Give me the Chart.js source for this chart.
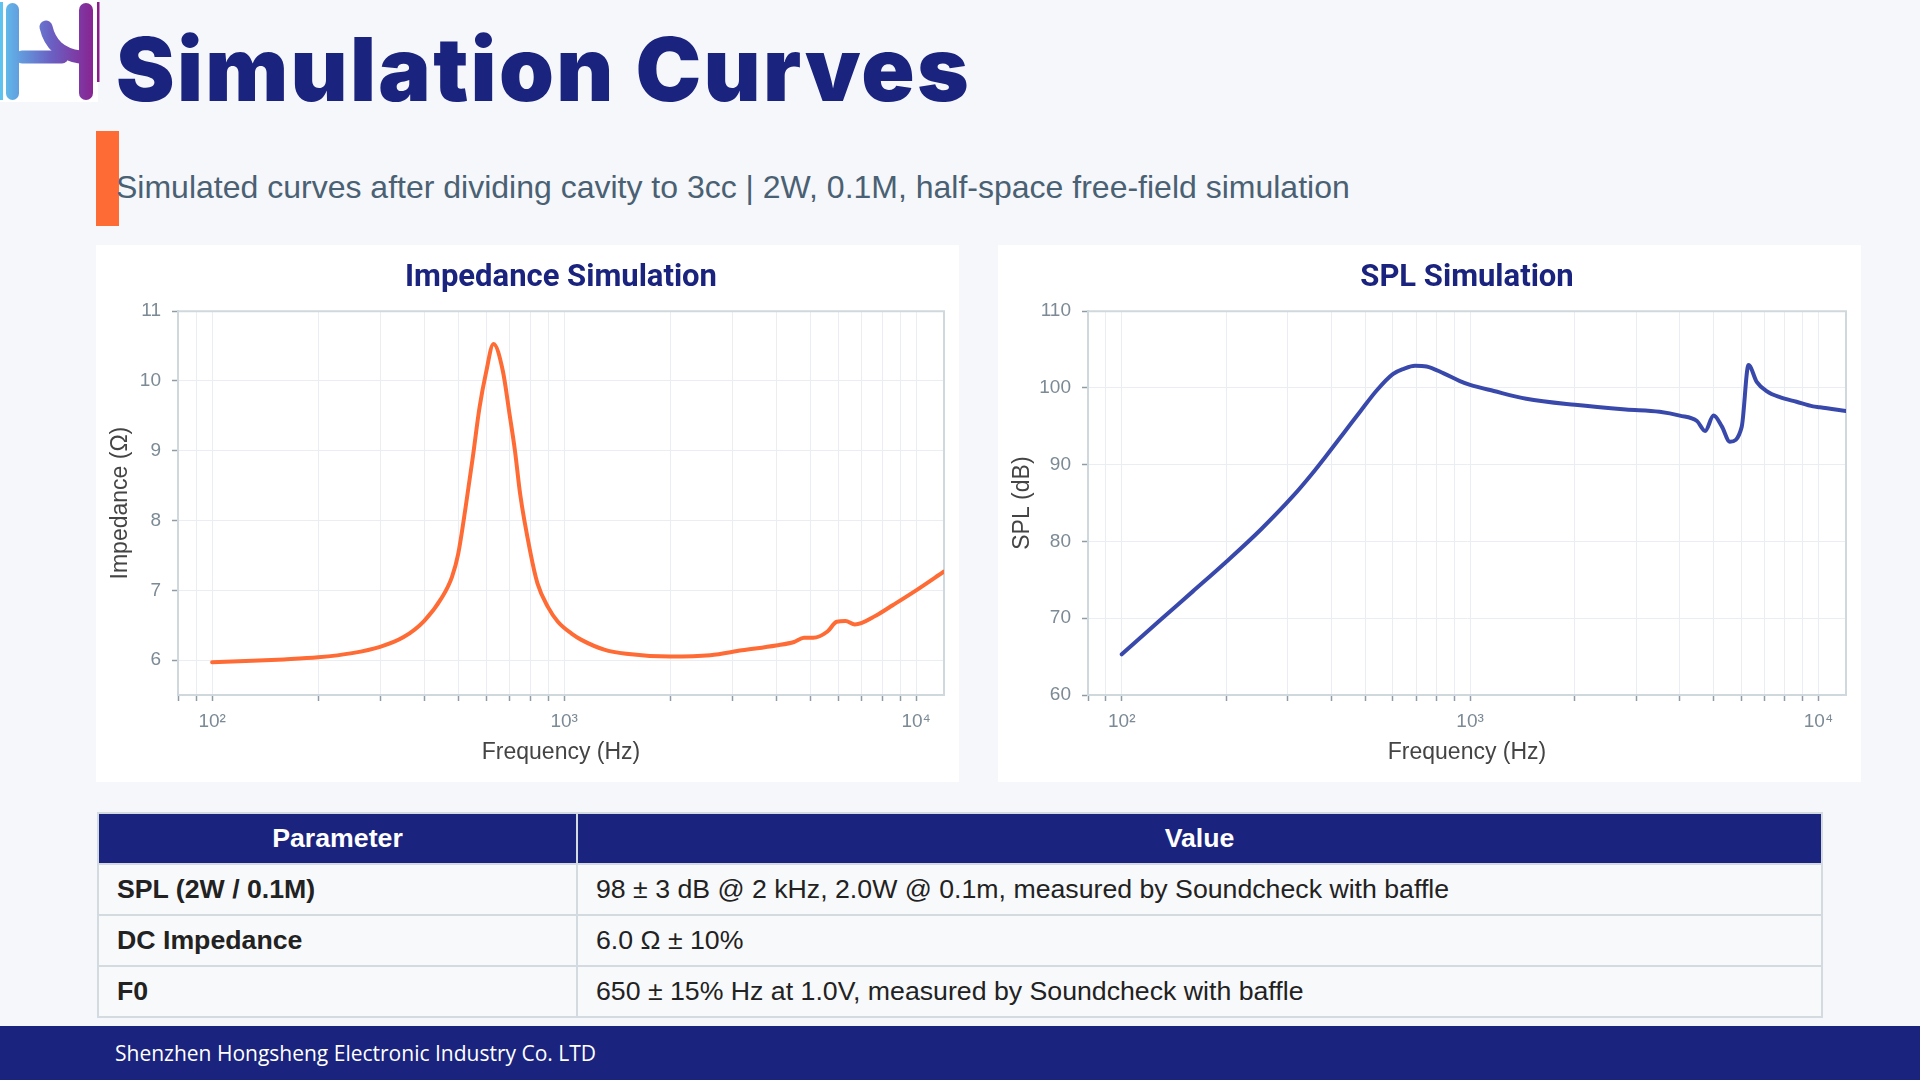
<!DOCTYPE html>
<html>
<head>
<meta charset="utf-8">
<title>Simulation Curves</title>
<script src="https://cdn.jsdelivr.net/npm/chart.js@4.4.1/dist/chart.umd.min.js"></script>
<style>
  html, body { margin: 0; padding: 0; }
  body {
    width: 1920px; height: 1080px; position: relative; overflow: hidden;
    background: #f5f7fa; font-family: 'Liberation Sans', Arial, sans-serif;
  }
  .logo { position: absolute; left: 0; top: 0; }
  .title {
    position: absolute; left: 116px; top: 25px; white-space: nowrap;
    font-family: Inter, sans-serif; font-weight: 900; font-size: 88px; line-height: 88px;
    letter-spacing: 2.3px; color: #1a237e;
  }
  .accent { position: absolute; left: 96px; top: 131px; width: 23px; height: 95px; background: #ff6b35; }
  .subtitle {
    position: absolute; left: 116px; top: 171px; white-space: nowrap;
    font-size: 32px; line-height: 32px; color: #4a6073;
  }
  .card { position: absolute; top: 245px; width: 863px; height: 537px; background: #fff; }
  #impCard { left: 96px; }
  #splCard { left: 998px; }
  table.spec {
    position: absolute; left: 97px; top: 812px; width: 1726px;
    border-collapse: collapse; font-size: 26.7px; color: #222;
  }
  table.spec th, table.spec td { border: 2px solid #d3dbe1; height: 49px; padding: 0 18px; }
  table.spec th { background: #1a237e; color: #fff; font-weight: bold; text-align: center; }
  table.spec td { background: #f8f9fb; }
  table.spec td.key { font-weight: bold; width: 441px; }
  .footer {
    position: absolute; left: 0; top: 1026px; width: 1920px; height: 54px;
    background: #1a237e; color: #fff; box-sizing: border-box; padding-left: 115px;
    display: flex; align-items: center;
    font-family: 'Open Sans', sans-serif; font-size: 21px;
  }
</style>
</head>
<body>

<svg class="logo" width="100" height="102" viewBox="0 0 100 102">
  <defs>
    <linearGradient id="lg" x1="0" y1="0" x2="100" y2="0" gradientUnits="userSpaceOnUse">
      <stop offset="0" stop-color="#5ec3ef"/>
      <stop offset="0.5" stop-color="#6a62c4"/>
      <stop offset="1" stop-color="#8d1a8a"/>
    </linearGradient>
  </defs>
  <rect x="0" y="0" width="98" height="102" fill="#fff"/>
  <rect x="0" y="2" width="3" height="98" fill="#5ec3ef"/>
  <rect x="6" y="3" width="13" height="97" rx="6.5" fill="url(#lg)"/>
  <path d="M22 57 H62" stroke="url(#lg)" stroke-width="13" stroke-linecap="round" fill="none"/>
  <path d="M46 27 C50 44 60 54 80 57" stroke="url(#lg)" stroke-width="13" stroke-linecap="round" fill="none"/>
  <rect x="79" y="3" width="14" height="97" rx="7" fill="url(#lg)"/>
  <rect x="97" y="2" width="2.5" height="80" fill="#8d1a8a"/>
</svg>

<div class="title">Simulation Curves</div>
<div class="accent"></div>
<div class="subtitle">Simulated curves after dividing cavity to 3cc | 2W, 0.1M, half-space free-field simulation</div>

<div class="card" id="impCard"><canvas id="impChart"></canvas></div>
<div class="card" id="splCard"><canvas id="splChart"></canvas></div>

<table class="spec">
  <tr><th>Parameter</th><th>Value</th></tr>
  <tr><td class="key">SPL (2W / 0.1M)</td><td>98 ± 3 dB @ 2 kHz, 2.0W @ 0.1m, measured by Soundcheck with baffle</td></tr>
  <tr><td class="key">DC Impedance</td><td>6.0 Ω ± 10%</td></tr>
  <tr><td class="key">F0</td><td>650 ± 15% Hz at 1.0V, measured by Soundcheck with baffle</td></tr>
</table>

<div class="footer">Shenzhen Hongsheng Electronic Industry Co. LTD</div>

<script>
// impedance curve (Hz, ohm)
const impFreq = [100, 130, 160, 200, 250, 300, 350, 400, 450, 480, 500, 525, 550, 575, 600, 630,
  670, 700, 725, 750, 800, 840, 900, 960, 1050, 1120, 1300, 1500, 2000, 2600, 3200, 4000,
  4500, 4800, 5100, 5600, 5950, 6300, 6700, 7700, 8600, 10000, 12000];
const impValues = [5.97, 5.99, 6.01, 6.04, 6.10, 6.19, 6.33, 6.56, 6.90, 7.19, 7.52, 8.19, 8.90, 9.62, 10.12, 10.53,
  10.14, 9.52, 9.00, 8.38, 7.57, 7.10, 6.76, 6.55, 6.38, 6.29, 6.15, 6.09, 6.05, 6.07, 6.14, 6.21,
  6.26, 6.32, 6.32, 6.41, 6.55, 6.56, 6.51, 6.64, 6.79, 7.00, 7.27];

// SPL curve (Hz, dB)
const splFreq = [100, 130, 160, 200, 250, 310, 350, 390, 435, 485, 540, 600, 645, 695, 750, 840,
  935, 1000, 1170, 1450, 2000, 2800, 3500, 4000, 4480, 4730, 5000, 5280, 5570, 6020, 6300,
  6650, 7100, 7750, 8650, 9650, 10100, 12000];
const splValues = [65.3, 69.9, 73.5, 77.4, 81.5, 85.9, 88.7, 91.4, 94.2, 97.0, 99.7, 101.8, 102.5, 102.9, 102.8, 101.9,
  100.9, 100.4, 99.6, 98.6, 97.8, 97.2, 96.9, 96.4, 95.7, 94.4, 96.4, 95.0, 93.0, 94.9, 103.0,
  100.8, 99.6, 98.8, 98.2, 97.6, 97.5, 97.0];

const freqTicks = [80, 90, 100, 200, 300, 400, 500, 600, 700, 800, 900,
  1000, 2000, 3000, 4000, 5000, 6000, 7000, 8000, 9000, 10000];
const decadeLabels = { 100: '10²', 1000: '10³', 10000: '10⁴' };
const impTicks = [6, 7, 8, 9, 10, 11];
const splTicks = [60, 70, 80, 90, 100, 110];

const axisLine = '#cfd8dc';
const gridColor = '#eaeef2';
const tickMark = '#8f9ca6';
const tickText = '#7b8a95';
const axisTitle = '#444';
const textFont = "'Liberation Sans', Arial, sans-serif";

// top and right border of the plot box
const plotFrame = {
  id: 'plotFrame',
  beforeDatasetsDraw(chart) {
    const { ctx, chartArea: a } = chart;
    ctx.save();
    ctx.strokeStyle = axisLine;
    ctx.lineWidth = 2;
    ctx.beginPath();
    ctx.moveTo(a.left, a.top);
    ctx.lineTo(a.right, a.top);
    ctx.lineTo(a.right, a.bottom);
    ctx.stroke();
    ctx.restore();
  }
};

function makeChart(canvasId, opts) {
  const points = opts.freq.map((f, i) => ({ x: f, y: opts.values[i] }));
  return new Chart(document.getElementById(canvasId), {
    type: 'line',
    data: {
      datasets: [{
        data: points,
        borderColor: opts.color,
        borderWidth: 4,
        pointRadius: 0,
        cubicInterpolationMode: 'monotone',
        borderJoinStyle: 'round',
        borderCapStyle: 'round',
        fill: false
      }]
    },
    plugins: [plotFrame],
    options: {
      responsive: true,
      maintainAspectRatio: false,
      animation: false,
      events: [],
      layout: { padding: { left: 8, right: 15, top: 0, bottom: 8 } },
      plugins: {
        legend: { display: false },
        tooltip: { enabled: false },
        title: {
          display: true,
          text: opts.title,
          fullSize: false,
          color: '#1a237e',
          font: { family: 'Roboto', size: 31, weight: 'bold' },
          padding: { top: 15, bottom: 14 }
        }
      },
      scales: {
        x: {
          type: 'logarithmic',
          min: 80,
          max: 12000,
          afterBuildTicks(scale) { scale.ticks = freqTicks.map(v => ({ value: v })); },
          afterFit(scale) { scale.height = 79; },
          ticks: {
            autoSkip: false, maxRotation: 0, minRotation: 0, padding: 9,
            color: tickText, font: { family: textFont, size: 19 },
            callback: v => decadeLabels[v] || ''
          },
          grid: { color: gridColor, lineWidth: 1, tickColor: tickMark, tickLength: 6, tickWidth: 1.5 },
          border: { display: true, color: axisLine, width: 2 },
          title: {
            display: true, text: 'Frequency (Hz)', color: axisTitle,
            font: { family: textFont, size: 23 }, padding: { top: 0, bottom: 8 }
          }
        },
        y: {
          min: opts.yMin,
          max: opts.yMax,
          afterBuildTicks(scale) { scale.ticks = opts.yTicks.map(v => ({ value: v })); },
          afterFit(scale) { scale.width = opts.yWidth; },
          ticks: { padding: 11, color: tickText, font: { family: textFont, size: 19 } },
          grid: { color: gridColor, lineWidth: 1, tickColor: tickMark, tickLength: 6, tickWidth: 1.5 },
          border: { display: true, color: axisLine, width: 2 },
          title: {
            display: true, text: opts.yTitle, color: axisTitle,
            font: { family: textFont, size: 23 }, padding: { top: 3, bottom: 0 }
          }
        }
      }
    }
  });
}

makeChart('impChart', {
  title: 'Impedance Simulation', freq: impFreq, values: impValues, color: '#ff6b35',
  yMin: 5.5, yMax: 11, yTicks: impTicks, yTitle: 'Impedance (Ω)', yWidth: 74
});
makeChart('splChart', {
  title: 'SPL Simulation', freq: splFreq, values: splValues, color: '#3949ab',
  yMin: 60, yMax: 110, yTicks: splTicks, yTitle: 'SPL (dB)', yWidth: 82
});
</script>
</body>
</html>
